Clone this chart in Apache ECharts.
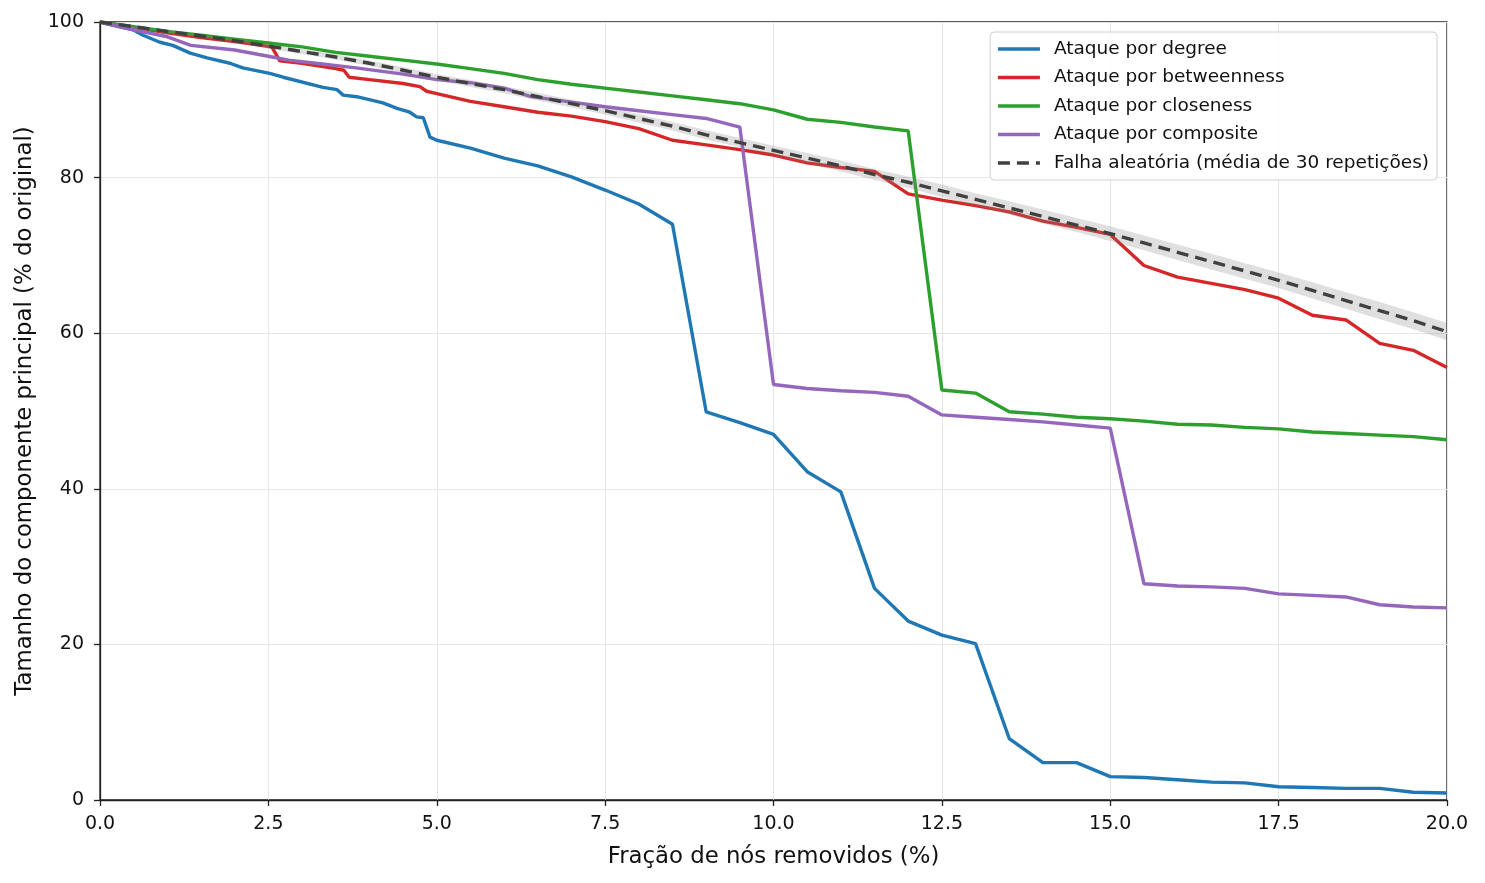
<!DOCTYPE html>
<html>
<head>
<meta charset="utf-8">
<script src="https://cdn.jsdelivr.net/npm/echarts@6/dist/echarts.min.js"></script>
<style>
  html, body { margin: 0; padding: 0; background: #fff; }
  #chart { width: 1485px; height: 883px; }
</style>
</head>
<body>
<div id="chart"></div>
<script>
// ataque por degree
var xDegree = [0, 0.03, 0.49, 0.64, 0.89, 1.08, 1.34, 1.59, 1.93, 2.12, 2.52, 2.72, 3.31, 3.52, 3.61, 3.81, 4.2, 4.41, 4.6, 4.7, 4.8, 4.9, 5.0,
  5.5, 6.0, 6.5, 7.0, 7.5, 8.0, 8.5, 9.0, 9.5, 10.0, 10.5, 11.0, 11.5, 12.0, 12.5, 13.0, 13.5, 14.0, 14.5, 15.0,
  15.5, 16.0, 16.5, 17.0, 17.5, 18.0, 18.5, 19.0, 19.5, 20.0];
var yDegree = [100, 99.9, 99.0, 98.3, 97.4, 97.0, 96.0, 95.4, 94.7, 94.1, 93.4, 92.9, 91.6, 91.3, 90.6, 90.4, 89.6, 88.9, 88.4, 87.8, 87.7, 85.2, 84.8,
  83.8, 82.5, 81.5, 80.1, 78.4, 76.6, 74.0, 49.9, 48.5, 47.0, 42.2, 39.6, 27.2, 23.0, 21.2, 20.1, 7.9, 4.8, 4.8, 3.0,
  2.9, 2.6, 2.3, 2.2, 1.7, 1.6, 1.5, 1.5, 1.0, 0.9];

// ataque por betweenness
var xBetween = [0, 0.5, 1.0, 1.5, 2.0, 2.55, 2.67, 3.0, 3.5, 3.62, 3.7, 4.0, 4.5, 4.75, 4.85, 5.0,
  5.5, 6.0, 6.5, 7.0, 7.5, 8.0, 8.5, 9.0, 9.5, 10.0, 10.5, 11.0, 11.5, 12.0, 12.5, 13.0, 13.5, 14.0, 14.5, 15.0,
  15.5, 16.0, 16.5, 17.0, 17.5, 18.0, 18.5, 19.0, 19.5, 20.0];
var yBetween = [100, 99.3, 98.6, 98.0, 97.5, 96.8, 95.0, 94.7, 94.0, 93.8, 92.9, 92.6, 92.1, 91.7, 91.1, 90.8,
  89.8, 89.1, 88.4, 87.9, 87.2, 86.3, 84.8, 84.2, 83.6, 82.9, 81.9, 81.3, 80.8, 77.9, 77.1, 76.4, 75.6, 74.4, 73.6, 72.7,
  68.7, 67.2, 66.4, 65.6, 64.5, 62.3, 61.7, 58.7, 57.8, 55.6];

// ataque por closeness
var xClose = [0, 0.5, 1.0, 1.5, 2.0, 2.5, 3.0, 3.5, 4.0, 4.5, 5.0,
  5.5, 6.0, 6.5, 7.0, 7.5, 8.0, 8.5, 9.0, 9.5, 10.0, 10.5, 11.0, 11.5, 12.0, 12.5, 13.0, 13.5, 14.0, 14.5, 15.0,
  15.5, 16.0, 16.5, 17.0, 17.5, 18.0, 18.5, 19.0, 19.5, 20.0];
var yClose = [100, 99.4, 98.8, 98.3, 97.8, 97.3, 96.8, 96.1, 95.6, 95.1, 94.6,
  94.0, 93.4, 92.6, 92.0, 91.5, 91.0, 90.5, 90.0, 89.5, 88.7, 87.5, 87.1, 86.5, 86.0, 52.7, 52.3, 49.9, 49.6, 49.2, 49.0,
  48.7, 48.3, 48.2, 47.9, 47.7, 47.3, 47.1, 46.9, 46.7, 46.3];

// ataque por composite
var xComp = [0, 0.5, 1.0, 1.35, 2.0, 2.5, 2.8, 3.3, 3.8, 4.5, 5.0,
  5.5, 6.0, 6.4, 7.0, 7.5, 8.0, 8.5, 9.0, 9.5, 10.0, 10.5, 11.0, 11.5, 12.0, 12.5, 13.0, 13.5, 14.0, 14.5, 15.0,
  15.5, 16.0, 16.5, 17.0, 17.5, 18.0, 18.5, 19.0, 19.5, 20.0];
var yComp = [100, 99.0, 98.1, 97.0, 96.4, 95.6, 95.1, 94.6, 94.1, 93.3, 92.6,
  92.2, 91.5, 90.4, 89.7, 89.1, 88.6, 88.1, 87.6, 86.5, 53.4, 52.9, 52.6, 52.4, 51.9, 49.5, 49.2, 48.9, 48.6, 48.2, 47.8,
  27.8, 27.5, 27.4, 27.2, 26.5, 26.3, 26.1, 25.1, 24.8, 24.7];

// falha aleatoria (media) e faixa de desvio
var xRandom = [0, 0.5, 1.0, 1.5, 2.0, 2.5, 3.0, 3.5, 4.0, 4.5, 5.0, 5.5, 6.0, 6.5, 7.0, 7.5, 8.0, 8.5, 9.0, 9.5, 10.0,
  10.5, 11.0, 11.5, 12.0, 12.5, 13.0, 13.5, 14.0, 14.5, 15.0, 15.5, 16.0, 16.5, 17.0, 17.5, 18.0, 18.5, 19.0, 19.5, 20.0];
var yRandom = [100, 99.4, 98.8, 98.2, 97.6, 96.9, 96.2, 95.5, 94.7, 93.8, 92.9, 92.1, 91.3, 90.4, 89.5, 88.6, 87.6, 86.6, 85.5, 84.5, 83.5,
  82.5, 81.5, 80.4, 79.4, 78.3, 77.2, 76.1, 75.0, 73.9, 72.8, 71.6, 70.4, 69.2, 68.0, 66.8, 65.5, 64.2, 62.9, 61.6, 60.2];
var randomStd = [0, 0.1, 0.15, 0.2, 0.25, 0.3, 0.3, 0.35, 0.35, 0.4, 0.4, 0.45, 0.45, 0.5, 0.5, 0.5, 0.55, 0.55, 0.6, 0.6, 0.6,
  0.65, 0.7, 0.7, 0.75, 0.8, 0.8, 0.85, 0.9, 0.9, 0.95, 0.95, 1.0, 1.0, 1.0, 1.0, 1.05, 1.05, 1.1, 1.1, 1.1];

function pairs(xs, ys) {
  return xs.map(function (x, i) { return [x, ys[i]]; });
}

var FONT = "DejaVu Sans";
var myChart = echarts.init(document.getElementById("chart"));

function lineSeries(name, xs, ys, color) {
  return {
    name: name,
    type: "line",
    data: pairs(xs, ys),
    symbol: "none",
    lineStyle: { color: color, width: 3.4 },
    itemStyle: { color: color },
    z: 3
  };
}

var option = {
  animation: false,
  textStyle: { fontFamily: FONT },
  grid: {
    left: 100, right: 38, top: 22, bottom: 83,
    show: true, borderColor: "#222", borderWidth: 1.3, backgroundColor: "transparent"
  },
  legend: {
    orient: "vertical",
    right: 48,
    top: 32,
    padding: [7, 8, 7, 6],
    itemWidth: 42,
    itemHeight: 14,
    itemGap: 8.5,
    itemStyle: { opacity: 0 },
    lineStyle: { width: 3.4 },
    backgroundColor: "rgba(255,255,255,0.85)",
    borderColor: "#d0d0d0",
    borderWidth: 1,
    borderRadius: 4,
    textStyle: { fontFamily: FONT, fontSize: 18.5, color: "#111", lineHeight: 20, padding: [0, 0, 0, 9] },
    data: ["Ataque por degree", "Ataque por betweenness", "Ataque por closeness", "Ataque por composite",
      "Falha aleatória (média de 30 repetições)"]
  },
  xAxis: {
    type: "value",
    min: 0, max: 20, interval: 2.5,
    name: "Fração de nós removidos (%)",
    nameLocation: "middle",
    nameGap: 46,
    nameTextStyle: { fontFamily: FONT, fontSize: 22.8, color: "#111" },
    axisLine: { show: true, onZero: false, lineStyle: { color: "#222", width: 1.3 } },
    axisTick: { show: true, inside: false, length: 6, lineStyle: { color: "#222", width: 1.3 } },
    axisLabel: {
      fontFamily: FONT, fontSize: 19, color: "#111", margin: 15,
      formatter: function (v) { return v.toFixed(1); }
    },
    splitLine: { show: true, lineStyle: { color: "#e6e6e6", width: 1 } }
  },
  yAxis: {
    type: "value",
    min: 0, max: 100, interval: 20,
    name: "Tamanho do componente principal (% do original)",
    nameLocation: "middle",
    nameGap: 62,
    nameTextStyle: { fontFamily: FONT, fontSize: 22.8, color: "#111" },
    axisLine: { show: true, lineStyle: { color: "#222", width: 1.3 } },
    axisTick: { show: true, inside: false, length: 6, lineStyle: { color: "#222", width: 1.3 } },
    axisLabel: { fontFamily: FONT, fontSize: 19, color: "#111", margin: 16 },
    splitLine: { show: true, lineStyle: { color: "#e6e6e6", width: 1 } }
  },
  series: [
    lineSeries("Ataque por degree", xDegree, yDegree, "#1f77b4"),
    lineSeries("Ataque por betweenness", xBetween, yBetween, "#d62728"),
    lineSeries("Ataque por closeness", xClose, yClose, "#2ca02c"),
    lineSeries("Ataque por composite", xComp, yComp, "#9467bd"),
    {
      name: "faixa",
      type: "custom",
      data: [0],
      z: 4,
      silent: true,
      renderItem: function (params, api) {
        var upper = xRandom.map(function (x, i) { return api.coord([x, yRandom[i] + randomStd[i]]); });
        var lower = xRandom.map(function (x, i) { return api.coord([x, yRandom[i] - randomStd[i]]); }).reverse();
        return {
          type: "polygon",
          shape: { points: upper.concat(lower) },
          style: { fill: "rgba(128,128,128,0.25)", stroke: "none" }
        };
      }
    },
    {
      name: "Falha aleatória (média de 30 repetições)",
      type: "line",
      data: pairs(xRandom, yRandom),
      symbol: "none",
      z: 5,
      lineStyle: { color: "#404040", width: 3.4, type: [12, 7] },
      itemStyle: { color: "#404040" }
    }
  ]
};

myChart.setOption(option);
window.onresize = myChart.resize;
</script>
</body>
</html>
